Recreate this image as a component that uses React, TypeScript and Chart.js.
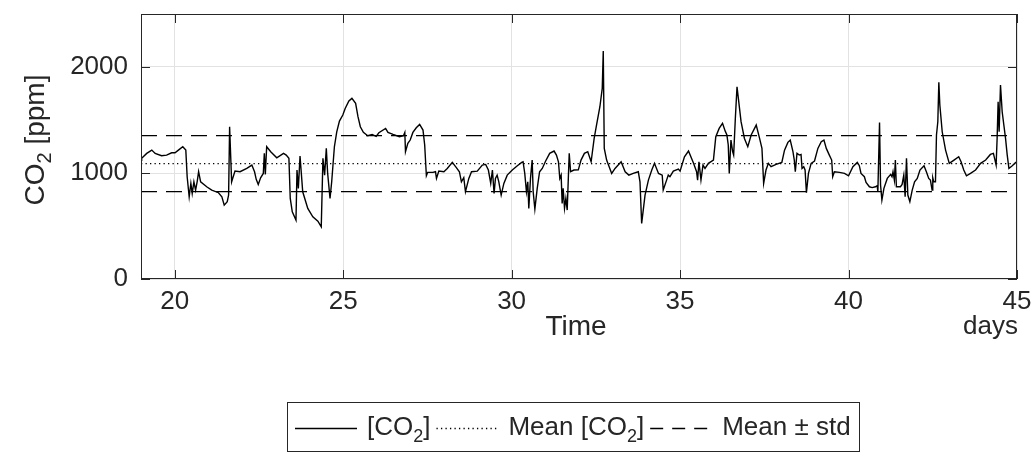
import { useEffect, useRef } from "react";
import { Chart, registerables } from "chart.js";

Chart.register(...registerables);

// ---- Data ----
const timeDays = [
  19.0, 19.02, 19.17, 19.32, 19.42, 19.61, 19.76, 19.91, 20.01, 20.11, 20.24, 20.33, 20.37, 20.43, 20.48, 20.52,
  20.57, 20.62, 20.67, 20.71, 20.77, 20.95, 21.1, 21.3, 21.4, 21.47, 21.56, 21.6, 21.63, 21.69, 21.79, 21.94,
  22.14, 22.29, 22.37, 22.42, 22.48, 22.55, 22.63, 22.66, 22.69, 22.73, 22.85, 23.03, 23.23, 23.31, 23.39, 23.43,
  23.49, 23.6, 23.63, 23.67, 23.72, 23.8, 23.95, 24.1, 24.25, 24.35, 24.4, 24.45, 24.5, 24.54, 24.61, 24.66,
  24.74, 24.81, 24.89, 24.99, 25.06, 25.17, 25.26, 25.37, 25.44, 25.51, 25.6, 25.73, 25.86, 25.98, 26.06, 26.26,
  26.33, 26.48, 26.67, 26.79, 26.83, 26.85, 26.92, 26.99, 27.07, 27.17, 27.27, 27.37, 27.42, 27.47, 27.51, 27.66,
  27.74, 27.77, 27.84, 27.99, 28.09, 28.24, 28.36, 28.45, 28.51, 28.58, 28.63, 28.73, 28.81, 28.98, 29.13, 29.23,
  29.31, 29.38, 29.43, 29.48, 29.52, 29.57, 29.62, 29.69, 29.77, 29.87, 30.02, 30.17, 30.3, 30.34, 30.39, 30.44,
  30.48, 30.51, 30.56, 30.61, 30.64, 30.69, 30.76, 30.83, 30.91, 31.01, 31.13, 31.26, 31.33, 31.39, 31.43, 31.47,
  31.5, 31.53, 31.57, 31.61, 31.65, 31.69, 31.71, 31.75, 31.85, 31.98, 32.06, 32.16, 32.26, 32.36, 32.45, 32.52,
  32.62, 32.69, 32.72, 32.75, 32.82, 32.97, 33.07, 33.25, 33.37, 33.48, 33.61, 33.76, 33.81, 33.86, 33.96, 34.06,
  34.16, 34.24, 34.36, 34.47, 34.5, 34.6, 34.65, 34.7, 34.8, 34.95, 35.0, 35.13, 35.25, 35.4, 35.49, 35.52,
  35.56, 35.62, 35.68, 35.74, 35.84, 35.99, 36.06, 36.16, 36.26, 36.34, 36.39, 36.43, 36.46, 36.51, 36.56, 36.59,
  36.64, 36.69, 36.73, 36.81, 36.91, 37.01, 37.11, 37.26, 37.36, 37.43, 37.48, 37.55, 37.62, 37.7, 37.85, 38.02,
  38.1, 38.2, 38.27, 38.35, 38.39, 38.42, 38.47, 38.54, 38.59, 38.62, 38.67, 38.71, 38.75, 38.81, 38.89, 38.99,
  39.09, 39.19, 39.27, 39.34, 39.43, 39.5, 39.53, 39.58, 39.73, 39.88, 40.0, 40.13, 40.26, 40.32, 40.37, 40.47,
  40.52, 40.62, 40.7, 40.8, 40.85, 40.87, 40.92, 40.95, 40.99, 41.05, 41.15, 41.25, 41.29, 41.32, 41.36, 41.39,
  41.42, 41.54, 41.59, 41.64, 41.68, 41.72, 41.76, 41.82, 41.89, 41.96, 42.04, 42.12, 42.24, 42.31, 42.38, 42.43,
  42.48, 42.5, 42.53, 42.58, 42.61, 42.65, 42.68, 42.71, 42.78, 42.88, 42.99, 43.13, 43.27, 43.34, 43.42, 43.5,
  43.62, 43.77, 43.92, 44.07, 44.21, 44.3, 44.38, 44.41, 44.44, 44.47, 44.51, 44.56, 44.66, 44.71, 44.76, 44.86,
  44.96, 45.0,
];

const co2Ppm = [
  1120, 1138, 1185, 1216, 1185, 1163, 1169, 1191, 1191, 1216, 1248, 1216, 965, 776, 902, 808,
  917, 839, 924, 1012, 917, 870, 839, 814, 776, 697, 729, 792, 1436, 917, 1018, 1012,
  1043, 1075, 1012, 940, 892, 955, 996, 1185, 987, 1248, 1201, 1144, 1185, 1169, 1138, 760,
  634, 556, 1028, 855, 1160, 823, 666, 587, 546, 493, 1138, 980, 1232, 996, 760, 917,
  1248, 1389, 1490, 1547, 1609, 1679, 1704, 1657, 1531, 1436, 1383, 1352, 1364, 1345, 1380, 1421,
  1383, 1364, 1342, 1352, 1383, 1201, 1279, 1311, 1383, 1427, 1458, 1405, 1264, 974, 1006, 1006,
  1012, 949, 1018, 1012, 1043, 1100, 1050, 1012, 917, 955, 823, 949, 1012, 1018, 1075, 1081,
  1028, 902, 1028, 807, 949, 980, 917, 792, 902, 980, 1028, 1069, 1100, 1106, 996, 823,
  917, 666, 949, 1122, 823, 660, 855, 1012, 1043, 1113, 1185, 1207, 1169, 1106, 949, 980,
  713, 855, 666, 760, 650, 1012, 1185, 1012, 1028, 1030, 1122, 1185, 1201, 1106, 1326, 1452,
  1625, 1798, 2150, 1232, 1122, 996, 1043, 1106, 1012, 980, 996, 1012, 917, 524, 792, 933,
  1028, 1091, 996, 980, 839, 933, 980, 965, 1018, 1037, 1018, 1153, 1207, 1091, 1012, 933,
  1106, 933, 1075, 1043, 1091, 1122, 1342, 1421, 1468, 1395, 1358, 1264, 996, 1311, 1201, 1169,
  1515, 1814, 1704, 1484, 1326, 1248, 1358, 1452, 1326, 1232, 902, 1028, 1091, 1059, 1081, 1100,
  1216, 1289, 1311, 1201, 1122, 1012, 1185, 1169, 1175, 1043, 1059, 1028, 814, 996, 1091, 1113,
  1232, 1295, 1311, 1232, 1169, 1122, 965, 1012, 1006, 996, 974, 1059, 1100, 1069, 996, 965,
  911, 870, 862, 870, 880, 823, 1477, 886, 745, 855, 949, 987, 965, 1012, 933, 1122,
  870, 870, 892, 980, 776, 1138, 792, 729, 839, 917, 949, 1028, 1069, 1012, 949, 933,
  839, 955, 917, 917, 1358, 1484, 1855, 1641, 1389, 1216, 1091, 1122, 1153, 1106, 1028, 974,
  996, 1028, 1091, 1122, 1175, 1185, 1075, 1326, 1672, 1389, 1830, 1578, 1326, 1169, 1043, 1069,
  1100, 1100,
];

const meanPpm = 1088;
const stdPpm = 264;

const xMin = 19;
const xMax = 45;
const xTicks = [20, 25, 30, 35, 40, 45];
const yMin = 0;
const yMax = 2500;
const yTicks = [0, 1000, 2000];

const xTitle = "Time";
const xUnit = "days";
const yTitleParts = [
  { text: "CO", sub: false },
  { text: "2", sub: true },
  { text: " [ppm]", sub: false },
];
const legendItems = [
  { dash: [] as number[], parts: [{ text: "[CO", sub: false }, { text: "2", sub: true }, { text: "]", sub: false }] },
  { dash: [1.3, 3.2], parts: [{ text: "Mean [CO", sub: false }, { text: "2", sub: true }, { text: "]", sub: false }] },
  { dash: [13, 9], parts: [{ text: "Mean \u00b1 std", sub: false }] },
];

// ---- Styling ----
const FONT = "'Liberation Sans', Arial, Helvetica, sans-serif";
const TEXT = "#262626";
const GRID = "#e2e2e2";
const TICK_SIZE = 26;
const LABEL_SIZE = 28;
const LEGEND_SIZE = 26;

type Part = { text: string; sub: boolean };

function partsWidth(ctx: CanvasRenderingContext2D, parts: Part[], size: number) {
  let w = 0;
  for (const p of parts) {
    ctx.font = `${p.sub ? Math.round(size * 0.7) : size}px ${FONT}`;
    w += ctx.measureText(p.text).width;
  }
  return w;
}

function drawParts(ctx: CanvasRenderingContext2D, parts: Part[], x: number, y: number, size: number) {
  ctx.textAlign = "left";
  ctx.textBaseline = "middle";
  let cx = x;
  for (const p of parts) {
    const s = p.sub ? Math.round(size * 0.7) : size;
    ctx.font = `${s}px ${FONT}`;
    ctx.fillText(p.text, cx, p.sub ? y + size * 0.35 : y);
    cx += ctx.measureText(p.text).width;
  }
}

const decorPlugin = {
  id: "decor",
  afterDraw(chart: any) {
    const ctx: CanvasRenderingContext2D = chart.ctx;
    const a = chart.chartArea;
    const xs = chart.scales.x;
    const ys = chart.scales.y;
    ctx.save();
    ctx.strokeStyle = TEXT;
    ctx.lineWidth = 1;
    // box
    ctx.strokeRect(Math.round(a.left) + 0.5, Math.round(a.top) + 0.5, Math.round(a.right - a.left) - 1, Math.round(a.bottom - a.top) - 1);
    // inward ticks
    const tl = 9;
    ctx.beginPath();
    for (const t of xs.ticks) {
      const px = Math.round(xs.getPixelForValue(t.value)) + 0.5;
      ctx.moveTo(px, a.bottom);
      ctx.lineTo(px, a.bottom - tl);
      ctx.moveTo(px, a.top);
      ctx.lineTo(px, a.top + tl);
    }
    for (const t of ys.ticks) {
      const py = Math.round(ys.getPixelForValue(t.value)) + 0.5;
      ctx.moveTo(a.left, py);
      ctx.lineTo(a.left + tl, py);
      ctx.moveTo(a.right, py);
      ctx.lineTo(a.right - tl, py);
    }
    ctx.stroke();

    ctx.fillStyle = TEXT;
    // x title
    ctx.font = `${LABEL_SIZE}px ${FONT}`;
    ctx.textAlign = "center";
    ctx.textBaseline = "middle";
    ctx.fillText(xTitle, (a.left + a.right) / 2 - 3, 327);
    // unit
    ctx.font = `${TICK_SIZE}px ${FONT}`;
    ctx.textAlign = "right";
    ctx.fillText(xUnit, a.right + 1, 327);

    // y title (rotated)
    ctx.save();
    ctx.translate(36, 140);
    ctx.rotate(-Math.PI / 2);
    const yw = partsWidth(ctx, yTitleParts, LABEL_SIZE);
    drawParts(ctx, yTitleParts, -yw / 2, 0, LABEL_SIZE);
    ctx.restore();

    // legend
    const sample = 62;
    const gapS = 10;
    const gapI = 6;
    const padL = 8;
    const padR = 8;
    const widths = legendItems.map((it) => partsWidth(ctx, it.parts, LEGEND_SIZE));
    let total = padL + padR;
    widths.forEach((w, i) => {
      total += sample + gapS + w + (i < widths.length - 1 ? gapI : 0);
    });
    const boxTop = 402;
    const boxH = 50;
    const cxm = 573;
    const boxLeft = Math.round(cxm - total / 2);
    ctx.fillStyle = "#ffffff";
    ctx.fillRect(boxLeft, boxTop, total, boxH);
    ctx.strokeStyle = TEXT;
    ctx.lineWidth = 1;
    ctx.strokeRect(boxLeft + 0.5, boxTop + 0.5, Math.round(total), boxH - 1);
    const ly = boxTop + boxH / 2 + 1;
    let x = boxLeft + padL;
    legendItems.forEach((it, i) => {
      ctx.beginPath();
      ctx.setLineDash(it.dash);
      ctx.strokeStyle = "#000000";
      ctx.lineWidth = 1.3;
      ctx.moveTo(x, Math.round(ly) + 0.5);
      ctx.lineTo(x + sample, Math.round(ly) + 0.5);
      ctx.stroke();
      ctx.setLineDash([]);
      x += sample + gapS;
      ctx.fillStyle = TEXT;
      drawParts(ctx, it.parts, x, ly, LEGEND_SIZE);
      x += widths[i] + gapI;
    });
    ctx.restore();
  },
};

export default function App() {
  const ref = useRef<HTMLCanvasElement | null>(null);
  useEffect(() => {
    if (!ref.current) return;
    const pts = timeDays.map((t, i) => ({ x: t, y: co2Ppm[i] }));
    const hline = (v: number) => [
      { x: xMin, y: v },
      { x: xMax, y: v },
    ];
    const chart = new Chart(ref.current, {
      type: "line",
      data: {
        datasets: [
          { label: "[CO2]", data: pts, borderColor: "#000000", borderWidth: 1.4, pointRadius: 0, tension: 0, fill: false },
          { label: "Mean [CO2]", data: hline(meanPpm), borderColor: "#000000", borderWidth: 1.2, borderDash: [1.3, 3.2], pointRadius: 0, fill: false },
          { label: "Mean + std", data: hline(meanPpm + stdPpm), borderColor: "#000000", borderWidth: 1.3, borderDash: [16, 9], pointRadius: 0, fill: false },
          { label: "Mean - std", data: hline(meanPpm - stdPpm), borderColor: "#000000", borderWidth: 1.3, borderDash: [16, 9], pointRadius: 0, fill: false },
        ],
      },
      options: {
        animation: false,
        responsive: false,
        maintainAspectRatio: false,
        devicePixelRatio: 1,
        layout: { padding: { left: 0, right: 18, top: 14, bottom: 0 } },
        plugins: { legend: { display: false }, tooltip: { enabled: false }, title: { display: false } },
        scales: {
          x: {
            type: "linear",
            min: xMin,
            max: xMax,
            afterBuildTicks: (s: any) => {
              s.ticks = xTicks.map((v) => ({ value: v }));
            },
            afterFit: (s: any) => {
              s.height = 174;
              s.paddingLeft = 0;
              s.paddingRight = 0;
            },
            ticks: {
              autoSkip: false,
              maxRotation: 0,
              padding: 7,
              color: TEXT,
              font: { family: FONT, size: TICK_SIZE },
            },
            grid: { color: GRID, lineWidth: 1, drawTicks: false },
            border: { display: false },
          },
          y: {
            type: "linear",
            min: yMin,
            max: yMax,
            afterBuildTicks: (s: any) => {
              s.ticks = yTicks.map((v) => ({ value: v }));
            },
            afterFit: (s: any) => {
              s.width = 141;
              s.paddingTop = 0;
              s.paddingBottom = 0;
            },
            ticks: {
              padding: 13,
              color: TEXT,
              font: { family: FONT, size: TICK_SIZE },
              callback: (v: any) => String(v),
            },
            grid: { color: GRID, lineWidth: 1, drawTicks: false },
            border: { display: false },
          },
        },
      },
      plugins: [decorPlugin],
    } as any);
    return () => chart.destroy();
  }, []);
  return (
    <div style={{ position: "fixed", left: 0, top: 0, width: 1035, height: 453, background: "#ffffff" }}>
      <canvas ref={ref} width={1035} height={453} style={{ display: "block", width: 1035, height: 453 }} />
    </div>
  );
}
